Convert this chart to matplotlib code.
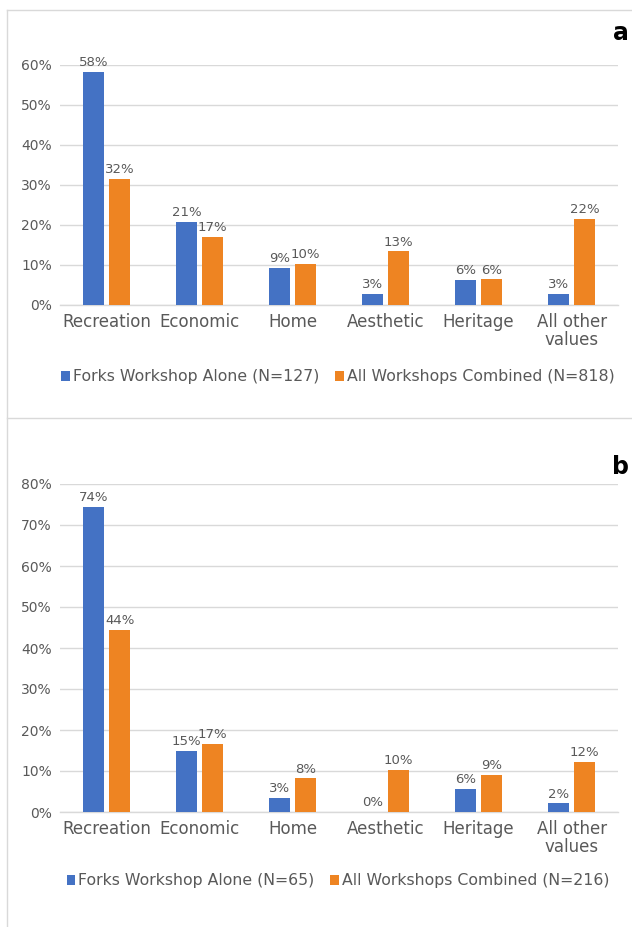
import matplotlib.pyplot as plt
from matplotlib.lines import Line2D
import numpy as np

categories = ["Recreation", "Economic", "Home", "Aesthetic", "Heritage", "All other\nvalues"]

# panel a (percent)
a_forks = [58.3, 20.7, 9.2, 2.8, 6.3, 2.7]
a_all = [31.5, 17.0, 10.2, 13.4, 6.4, 21.6]
a_names = ["Forks Workshop Alone (N=127)", "All Workshops Combined (N=818)"]

# panel b (percent)
b_forks = [74.4, 14.9, 3.4, 0.0, 5.7, 2.1]
b_all = [44.4, 16.7, 8.2, 10.2, 9.1, 12.3]
b_names = ["Forks Workshop Alone (N=65)", "All Workshops Combined (N=216)"]

blue = "#4472C4"
orange = "#EE8422"
txt = "#595959"
grid = "#D9D9D9"

fig = plt.figure(figsize=(6.32, 9.27), dpi=100)

def panel(rect, forks, allw, names, ymax, letter, letter_y, leg_y):
    ax = fig.add_axes(rect)
    x = np.arange(len(categories))
    w = 0.225
    b1 = ax.bar(x - 0.14, forks, w, color=blue, label=names[0], zorder=3)
    b2 = ax.bar(x + 0.14, allw, w, color=orange, label=names[1], zorder=3)
    ax.bar_label(b1, labels=["%d%%" % round(v) for v in forks], padding=2, fontsize=9.5, color=txt)
    ax.bar_label(b2, labels=["%d%%" % round(v) for v in allw], padding=2, fontsize=9.5, color=txt)
    ax.set_xlim(-0.5, len(categories) - 0.5)
    ax.set_ylim(0, ymax)
    ax.set_yticks(np.arange(0, ymax + 1, 10))
    ax.set_yticklabels(["%d%%" % t for t in np.arange(0, ymax + 1, 10)], fontsize=10, color=txt)
    ax.set_xticks(x)
    ax.set_xticklabels(categories, fontsize=12, color=txt, linespacing=1.0)
    ax.tick_params(axis="both", length=0, pad=6)
    ax.grid(axis="y", color=grid, linewidth=1, zorder=0)
    for s in ["top", "right", "left"]:
        ax.spines[s].set_visible(False)
    ax.spines["bottom"].set_color(grid)
    ax.spines["bottom"].set_linewidth(1)
    ax.legend(loc="center", bbox_to_anchor=(338 / 632, leg_y), bbox_transform=fig.transFigure,
              ncol=2, frameon=False, fontsize=11.3, handlelength=0.55, handleheight=0.55,
              handletextpad=0.2, columnspacing=1.0, labelcolor=txt)
    fig.text(0.995, letter_y, letter, fontsize=17, fontweight="bold", ha="right", va="center")
    return ax

panel([0.095, 1 - 305 / 927, 0.883, 240 / 927], a_forks, a_all, a_names, 60, "a",
      1 - 33 / 927, 1 - 377 / 927)
panel([0.095, 1 - 812 / 927, 0.883, 328 / 927], b_forks, b_all, b_names, 80, "b",
      1 - 467 / 927, 1 - 881 / 927)

# panel frames
fx = 7 / 632
fig.add_artist(Line2D([fx, 1], [1 - 10 / 927, 1 - 10 / 927], color=grid, lw=1))
fig.add_artist(Line2D([fx, 1], [1 - 418 / 927, 1 - 418 / 927], color=grid, lw=1))
fig.add_artist(Line2D([fx, fx], [0, 1 - 10 / 927], color=grid, lw=1))

fig.savefig("out.png", dpi=100)
